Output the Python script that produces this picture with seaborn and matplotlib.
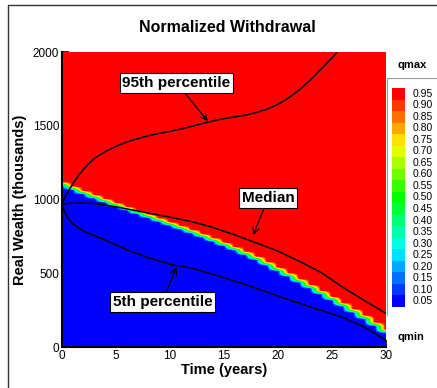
import numpy as np
import pandas as pd
import matplotlib
matplotlib.use("Agg")
import matplotlib.pyplot as plt
from matplotlib.colors import LinearSegmentedColormap
from matplotlib.lines import Line2D
import seaborn as sns

# ---------------- data ----------------
# red/blue switch boundary of the normalized withdrawal field (one value per year)
boundary_t = list(range(0, 31))
boundary_w = [1110, 1080, 1050, 1022, 995, 968, 942, 916, 890, 864, 838,
              812, 786, 758, 730, 700, 670, 638, 605, 568, 530,
              492, 452, 412, 372, 332, 290, 248, 205, 158, 110]

p95_t = [0, 0.25, 0.5, 0.75, 1, 1.5, 2, 2.5, 3, 4, 5, 6, 7, 8, 9, 10, 11, 12,
         13, 14, 15, 16, 17, 18, 19, 20, 21, 22, 23, 24, 25, 26, 27]
p95_w = [970, 1010, 1045, 1077, 1105, 1160, 1205, 1245, 1278, 1325, 1360,
         1390, 1412, 1432, 1448, 1462, 1478, 1495, 1515, 1533, 1548, 1560,
         1572, 1590, 1613, 1645, 1690, 1745, 1810, 1885, 1960, 2045, 2130]

med_t = [0, 1, 2, 3, 4, 5, 6, 7, 8, 9, 10, 12, 14, 16, 18, 20, 22, 24, 26, 28, 30]
med_w = [970, 975, 976, 972, 963, 950, 936, 922, 908, 894, 880, 850, 810,
         760, 705, 650, 580, 505, 405, 315, 228]

p05_t = [0, 0.25, 0.5, 0.75, 1, 1.5, 2, 3, 4, 6, 8, 10, 12, 14, 16, 18, 20,
         22, 24, 26, 28, 30]
p05_w = [970, 915, 880, 855, 835, 808, 785, 755, 725, 660, 605, 560, 535,
         492, 447, 398, 345, 296, 248, 200, 135, 45]

level_labels = ["0.95", "0.90", "0.85", "0.80", "0.75", "0.70", "0.65", "0.60",
                "0.55", "0.50", "0.45", "0.40", "0.35", "0.30", "0.25", "0.20",
                "0.15", "0.10", "0.05"]

# ---------------- style ----------------
sns.set_style("ticks")
plt.rcParams["font.family"] = ["Liberation Sans", "DejaVu Sans"]
plt.rcParams["text.color"] = "black"
plt.rcParams["axes.labelcolor"] = "black"
plt.rcParams["xtick.color"] = "black"
plt.rcParams["ytick.color"] = "black"
plt.rcParams["axes.edgecolor"] = "black"

W = 437 / 100
H = 388 / 100
fig = plt.figure(figsize=(W, H), dpi=100)

ax = fig.add_axes([62 / 437, 41 / 388, 324 / 437, 295 / 388])

# field on (time, wealth) grid
tgrid = np.array(boundary_t, dtype=float)
wgrid = np.arange(0, 2001, 5, dtype=float)
TT, WW = np.meshgrid(tgrid, wgrid)
B = np.array(boundary_w, dtype=float)[None, :]
Z = np.clip((WW - B) / 30.0 + 0.5, 0, 1)

cmap = LinearSegmentedColormap.from_list(
    "smallrainbow",
    [(0.0, "#0000ff"), (0.25, "#00ffff"), (0.5, "#00ff00"),
     (0.75, "#ffff00"), (1.0, "#ff0000")])
levels = [-1.0] + [round(0.05 * k, 2) for k in range(1, 20)] + [2.0]
band_colors = [cmap(v) for v in np.linspace(0, 1, 20)]
ax.contourf(TT, WW, Z, levels=levels, colors=band_colors, antialiased=False)

# percentile curves with seaborn
curves = pd.concat([
    pd.DataFrame({"t": p95_t, "w": p95_w, "s": "p95"}),
    pd.DataFrame({"t": med_t, "w": med_w, "s": "median"}),
    pd.DataFrame({"t": p05_t, "w": p05_w, "s": "p05"}),
])
for name, g in curves.groupby("s"):
    sns.lineplot(data=g, x="t", y="w", ax=ax, color="black", lw=1.1,
                 sort=False, estimator=None, legend=False)

ax.set_xlim(0, 30)
ax.set_ylim(0, 2000)
ax.set_xticks(range(0, 31, 5))
ax.set_xticks(range(0, 31, 1), minor=True)
ax.set_yticks(range(0, 2001, 500))
ax.set_yticks(range(0, 2001, 100), minor=True)
ax.tick_params(which="major", direction="in", length=5, width=1.2,
               labelsize=8.5, color="black", labelcolor="black", pad=2)
ax.tick_params(which="minor", direction="in", length=2.5, width=0.8,
               color="black")
for s in ["top", "right"]:
    ax.spines[s].set_visible(False)
for s in ["left", "bottom"]:
    ax.spines[s].set_color("black")
    ax.spines[s].set_linewidth(1.5)
ax.set_xlabel("Time (years)", fontsize=10.5, fontweight="bold", labelpad=1,
              color="black")
ax.set_ylabel("Real Wealth (thousands)", fontsize=10.5, fontweight="bold",
              labelpad=4, color="black")

fig.text(227 / 437, 1 - 27 / 388, "Normalized Withdrawal", ha="center",
         va="center", fontsize=11.5, fontweight="bold", color="black")

bbox = dict(boxstyle="square,pad=0.18", fc="white", ec="black", lw=0.8)
arrow = dict(arrowstyle="->", color="black", lw=0.9, shrinkA=0, shrinkB=0)
ax.annotate("95th percentile", xy=(13.5, 1532), xytext=(10.6, 1790),
            ha="center", va="center", fontsize=11, fontweight="bold",
            color="black", bbox=bbox, arrowprops=arrow)
ax.annotate("Median", xy=(17.7, 759), xytext=(19.1, 1010),
            ha="center", va="center", fontsize=11, fontweight="bold",
            color="black", bbox=bbox, arrowprops=arrow)
ax.annotate("5th percentile", xy=(10.6, 542), xytext=(9.3, 305),
            ha="center", va="center", fontsize=11, fontweight="bold",
            color="black", bbox=bbox, arrowprops=arrow)

# legend (level swatches)
cax = fig.add_axes([392 / 437, (388 - 307) / 388, 13 / 437, 219 / 388])
n = len(level_labels)
sw = np.array([cmap(v) for v in np.linspace(1, 0, n)])[:, None, :]
cax.imshow(sw, aspect="auto", extent=(0, 1, n, 0), interpolation="nearest")
cax.set_xlim(0, 1)
cax.set_ylim(n, 0)
cax.axis("off")
for i, lab in enumerate(level_labels):
    cax.text(1.6, i + 0.5, lab, ha="left", va="center", fontsize=7.5,
             color="black")

fig.text(397 / 437, 1 - 65 / 388, "qmax", ha="left", va="center",
         fontsize=8, fontweight="bold", color="black")
fig.text(397 / 437, 1 - 337 / 388, "qmin", ha="left", va="center",
         fontsize=8, fontweight="bold", color="black")

# legend frame and figure frame
fig.add_artist(Line2D([387 / 437, 387 / 437, 1.0],
                      [1 - 315 / 388, 1 - 78 / 388, 1 - 78 / 388],
                      transform=fig.transFigure, color="#999999", lw=0.8))
fig.add_artist(Line2D([8 / 437, 8 / 437, 1.0],
                      [0.0, 1 - 5 / 388, 1 - 5 / 388],
                      transform=fig.transFigure, color="#333333", lw=1.0))

fig.savefig("out.png", dpi=100)
